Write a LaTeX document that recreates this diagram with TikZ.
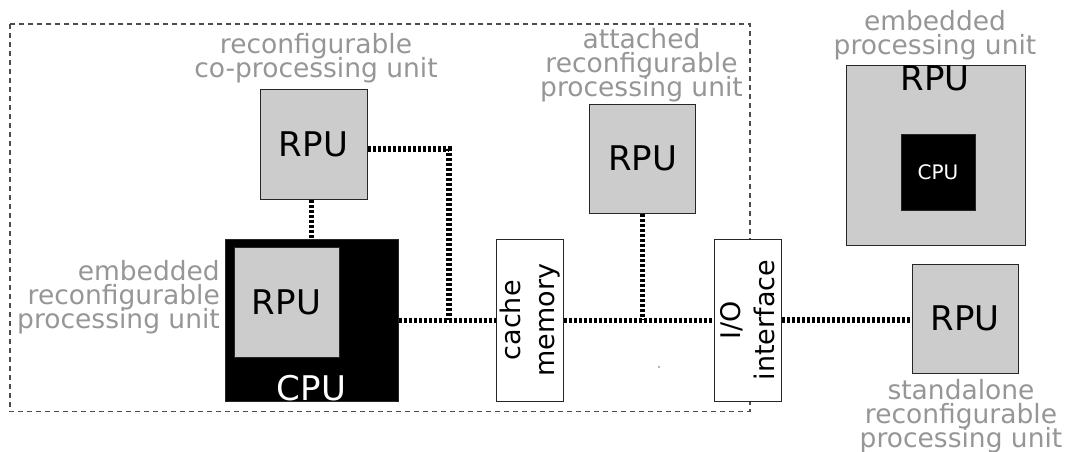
\documentclass[tikz,border=0pt]{standalone}
\usepackage{fontspec}
\setmainfont{DejaVu Sans}
\usetikzlibrary{calc}
\definecolor{labelgray}{RGB}{150,150,150}
\definecolor{rpugray}{RGB}{204,204,204}
\begin{document}
\begin{tikzpicture}[x=1pt,y=-1pt,
  box/.style={draw=black!85, line width=1pt, inner sep=0pt},
  bigfont/.style={font={\fontsize{34}{40}\selectfont}},
  rpu/.style={box, fill=rpugray, bigfont},
  bus/.style={line width=5.5pt, dash pattern=on 3pt off 2pt},
  frame/.style={draw=black!70, line width=1.2pt, dash pattern=on 5pt off 4pt},
  lbl/.style={text=labelgray, inner sep=0pt, align=center,
    font={\fontsize{26.5}{24}\selectfont\lineskiplimit=-50pt}},
  vbox/.style={box, fill=white, rotate=90, align=center,
    minimum width=162pt, minimum height=67pt,
    font={\fontsize{27}{34}\selectfont}}]
\useasboundingbox (0,0) rectangle (1071,452);

% system boundary
\draw[frame] (10,24) rectangle (750,411.7);

% processing units inside the system
\node[rpu, minimum width=107pt, minimum height=110pt] (crpu) at (313.5,144) {RPU};
\node[box, fill=black, minimum width=173pt, minimum height=162.4pt] (cpu) at (311.5,320.5) {};
\node[rpu, minimum width=105pt, minimum height=110pt] (erpu) at (286.5,302) {RPU};
\node[anchor=base, inner sep=0pt, text=white, bigfont] (cputxt) at (311.5,400) {CPU};
\node[vbox] (cache) at (529.7,320.3) {cache\\memory};
\node[vbox] (io) at (747.5,320) {I/O\\interface};
\node[rpu, minimum width=106.4pt, minimum height=109.3pt] (arpu) at (642.5,158.7) {RPU};

% units outside the system
\node[box, fill=rpugray, minimum width=179.7pt, minimum height=180.4pt] (eproc) at (935.9,155.5) {};
\node[anchor=base, inner sep=0pt, bigfont] (eproctxt) at (935,90.7) {RPU};
\node[box, fill=black, text=white, minimum width=74pt, minimum height=76pt,
      font={\fontsize{20}{24}\selectfont}] (ecpu) at (938,172) {CPU};
\node[rpu, minimum width=106pt, minimum height=109pt] (srpu) at (965,318.5) {RPU};

% bus and links
\coordinate (j1) at (449,320);
\draw[bus] (cpu.east) -- (cpu.east -| cache.north);
\draw[bus] (cache.south) -- (cache.south -| io.north);
\draw[bus] (io.south) -- (io.south -| srpu.west);
\draw[bus] ($(crpu.east)+(0,5)$) -| (j1);
\draw[bus] (crpu.south -| cpu.north) -- (cpu.north);
\draw[bus] (arpu.south) -- (arpu.south |- cache.south);

% labels
\node[lbl, anchor=north] (lcop) at (316,33) {reconfigurable\\co-processing unit};
\node[lbl, anchor=north] (latt) at (641.5,28.5) {attached\\reconfigurable\\processing unit};
\node[lbl, anchor=north east, align=right] (lemb) at (220,260) {embedded\\reconfigurable\\processing unit};
\node[lbl, anchor=north] (lep) at (935,10) {embedded\\processing unit};
\node[lbl, anchor=north] (lsa) at (961,379) {standalone\\reconfigurable\\processing unit};

\fill[black!60] (659,367) circle (0.8);
\end{tikzpicture}
\end{document}
